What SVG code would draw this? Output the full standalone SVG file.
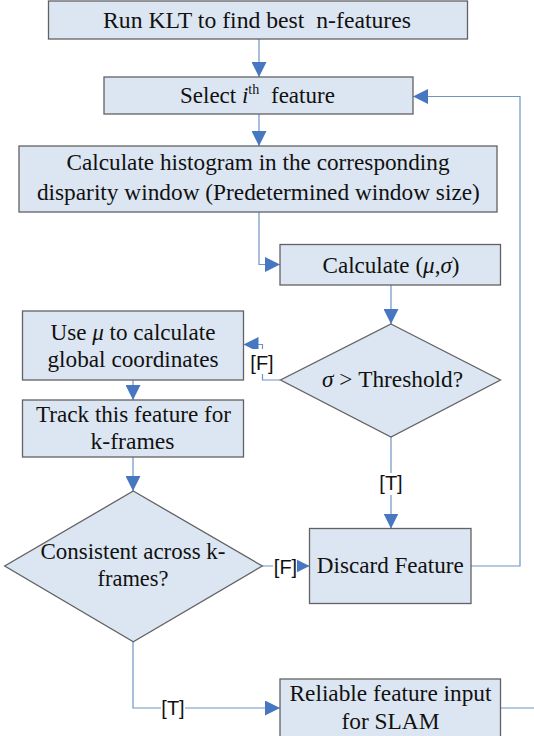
<svg xmlns="http://www.w3.org/2000/svg" width="534" height="736" viewBox="0 0 534 736">
<style>
.box{fill:#dce6f2;stroke:#626262;stroke-width:1.3}
.t{font-family:"Liberation Serif","Times New Roman",serif;font-size:23px;fill:#111;text-anchor:middle}
.lbl{font-family:"Liberation Sans",Arial,sans-serif;font-size:20px;fill:#111;text-anchor:middle}
.c{fill:none;stroke:#6f93c6;stroke-width:1.2}
.lb{fill:#fff}
</style>
<defs>
<marker id="ah" markerUnits="userSpaceOnUse" markerWidth="15" markerHeight="15" viewBox="0 0 15 15" refX="15" refY="7.5" orient="auto">
<path d="M0,0 L15,7.5 L0,15 z" fill="#4677c0"/>
</marker>
</defs>
<rect width="534" height="736" fill="#fff"/>
<g id="connectors">
<path class="c" d="M259,39 V77" marker-end="url(#ah)"/>
<path class="c" d="M259,114 V146" marker-end="url(#ah)"/>
<path class="c" d="M259,212 V264.5 H280" marker-end="url(#ah)"/>
<path class="c" d="M391,285 V324" marker-end="url(#ah)"/>
<path class="c" d="M280,380 H262.5 V344.5 H243.5" marker-end="url(#ah)"/>
<path class="c" d="M391,437 V528.5" marker-end="url(#ah)"/>
<path class="c" d="M133,380 V400" marker-end="url(#ah)"/>
<path class="c" d="M133,457 V491" marker-end="url(#ah)"/>
<path class="c" d="M262,566 H309.5" marker-end="url(#ah)"/>
<path class="c" d="M471,566 H520 V96.5 H413" marker-end="url(#ah)"/>
<path class="c" d="M133,642 V708 H280" marker-end="url(#ah)"/>
<path class="c" d="M500,708 H534"/>
<rect class="lb" x="250" y="349" width="24" height="25"/>
<text class="lbl" x="262" y="369.5">[F]</text>
<rect class="lb" x="379" y="473" width="24" height="22"/>
<text class="lbl" x="391" y="490">[T]</text>
<rect class="lb" x="273" y="556" width="24" height="22"/>
<text class="lbl" x="285.5" y="574">[F]</text>
<rect class="lb" x="161" y="698" width="24" height="22"/>
<text class="lbl" x="173" y="715">[T]</text>
</g>
<g id="n1">
<rect class="box" x="48.5" y="1" width="419" height="38"/>
<text class="t" x="257" y="28" textLength="308" lengthAdjust="spacingAndGlyphs">Run KLT to find best &#160;n-features</text>
</g>
<g id="n2">
<rect class="box" x="104" y="77" width="309" height="37"/>
<text class="t" x="180" y="103" style="text-anchor:start">Select <tspan font-style="italic">i</tspan><tspan font-size="14" dy="-9">th</tspan><tspan x="271" dy="9">feature</tspan></text>
</g>
<g id="n3">
<rect class="box" x="19" y="146" width="478" height="66"/>
<text class="t" x="258" y="170" textLength="383" lengthAdjust="spacingAndGlyphs">Calculate histogram in the corresponding</text>
<text class="t" x="258.4" y="199.5" textLength="443" lengthAdjust="spacingAndGlyphs">disparity window (Predetermined window size)</text>
</g>
<g id="n4">
<rect class="box" x="280" y="244.5" width="220.5" height="40.5"/>
<text class="t" x="391" y="272.5" textLength="137" lengthAdjust="spacingAndGlyphs">Calculate (<tspan font-style="italic">μ</tspan>,<tspan font-style="italic">σ</tspan>)</text>
</g>
<g id="n5">
<polygon class="box" points="391,324 500.5,380 391,437 280.5,380"/>
<text class="t" x="392.5" y="387" textLength="141" lengthAdjust="spacingAndGlyphs"><tspan font-style="italic">σ</tspan> &gt; Threshold?</text>
</g>
<g id="n6">
<rect class="box" x="22.5" y="311" width="221" height="69"/>
<text class="t" x="133" y="339.5" textLength="165" lengthAdjust="spacingAndGlyphs">Use <tspan font-style="italic">μ</tspan> to calculate</text>
<text class="t" x="133" y="366.5" textLength="171" lengthAdjust="spacingAndGlyphs">global coordinates</text>
</g>
<g id="n7">
<rect class="box" x="22.5" y="400" width="221" height="57"/>
<text class="t" x="133.5" y="421.5" textLength="195" lengthAdjust="spacingAndGlyphs">Track this feature for</text>
<text class="t" x="132.5" y="449" textLength="84" lengthAdjust="spacingAndGlyphs">k-frames</text>
</g>
<g id="n8">
<polygon class="box" points="133.3,491 262.3,566 133.3,641.7 4.7,566"/>
<text class="t" x="133" y="559" textLength="185" lengthAdjust="spacingAndGlyphs">Consistent across k-</text>
<text class="t" x="133" y="586" textLength="71" lengthAdjust="spacingAndGlyphs">frames?</text>
</g>
<g id="n9">
<rect class="box" x="309.5" y="528.5" width="161.5" height="75"/>
<text class="t" x="390.3" y="573" textLength="147" lengthAdjust="spacingAndGlyphs">Discard Feature</text>
</g>
<g id="n10">
<rect class="box" x="280" y="679" width="220.5" height="70"/>
<text class="t" x="390.5" y="701" textLength="202" lengthAdjust="spacingAndGlyphs">Reliable feature input</text>
<text class="t" x="390.5" y="728.5" textLength="98" lengthAdjust="spacingAndGlyphs">for SLAM</text>
</g>
</svg>
